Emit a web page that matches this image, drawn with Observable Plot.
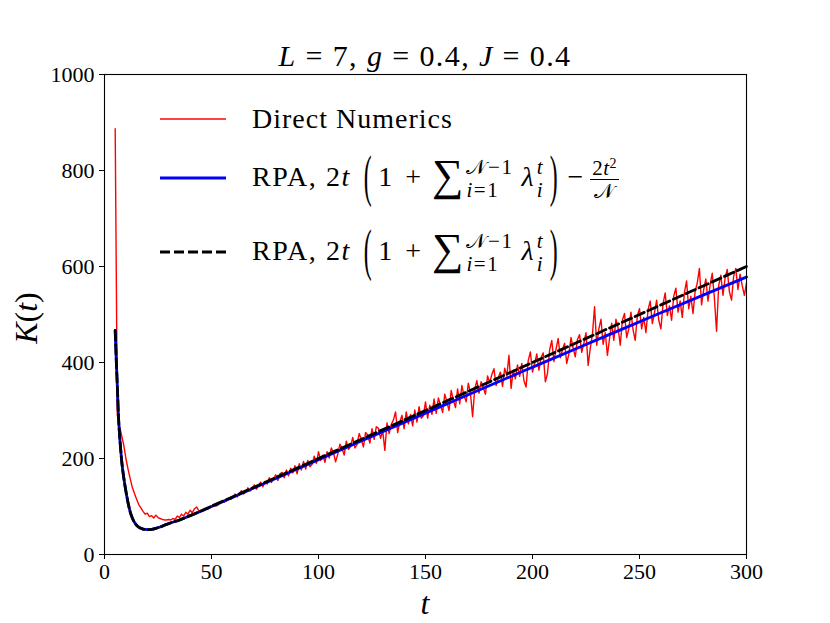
<!DOCTYPE html>
<html>
<head>
<meta charset="utf-8">
<script src="https://cdn.jsdelivr.net/npm/d3@7"></script>
<script src="https://cdn.jsdelivr.net/npm/@observablehq/plot@0.6"></script>
<style>
  html, body { margin: 0; padding: 0; background: #fff; }
  #wrap { position: relative; width: 830px; height: 623px; overflow: hidden; }
  .row { position: absolute; left: 160px; display: flex; align-items: center; height: 70px; white-space: nowrap; }
  .sw { width: 66px; height: 10px; margin-right: 26px; flex: none; }
  .txt { font-family: "Liberation Serif", serif; font-size: 28px; letter-spacing: 1px; color: #000; line-height: 1; }
  .m { letter-spacing: 1.6px; }
  .bp { display: inline-block; transform: scale(0.85, 2.0); margin: 0 5px 0 12px; }
  .bp.r { margin: 0 2px 0 5px; }
  .pl { margin: 0 10px 0 12px; }
  .sum { display: inline-block; font-size: 44px; vertical-align: -4px; margin-left: 0; }
  .ss { display: inline-block; vertical-align: middle; font-size: 21px; line-height: 1.1; letter-spacing: 1.6px; margin-left: 2px; }
  .ss span { display: block; }
  .lam { margin-left: 8px; }
  .frac { display: inline-block; vertical-align: middle; font-size: 21px; line-height: 1.05; text-align: center; letter-spacing: 0.5px; margin-left: 6px; }
  .frac .num { display: block; padding: 0 2px; }
  .frac .den { display: block; border-top: 1px solid #000; }
  .frac sup { font-size: 14px; vertical-align: 7px; line-height: 0; }
  .mn { margin-left: 6px; }
</style>
</head>
<body>
<div id="wrap"></div>
<script>
// ---- data ----
// smooth RPA curves, sampled at these t values
const tCurve = [5,5.5,6,6.5,7,7.5,8,9,10,11,12,13,14,15,16,17,18,19,20,22,24,26,28,30,35,40,45,50,60,70,80,90,100,120,140,160,180,200,220,240,260,280,300];
const rpaDashed = [467,405,350,290,252,222,196,160,132,108,89,76,67,61,57,54.5,53,52.3,52,52.5,54.5,57.5,61,64.5,72,81,90.5,100.5,120.3,140.2,160.1,180,200,240,280,320,360,400,440,480,520,560,600];
const rpaBlue = [467,405,350,290,252,222,196,160,132,108,89,76,67,61,57,54.5,53,52.3,52,52.4,54.4,57.3,60.8,64.3,71.7,80.6,90,99.9,119.4,139,158.5,178,197.6,236.5,275.2,313.7,352.1,390.2,428.2,465.9,503.5,540.9,578];

// direct numerics, one value per integer t from 5 to 300
const tStart = 5;
const directK = [
  887,290,268,248,228,200,178,158,140,127,   // t 5-14
  115,104,97,90,84,86,79,81,76,82,           // t 15-24
  77,75,73,72,72,73,72,75,73,80,             // t 25-34
  77,84,80,88,84,92,87,95,99,92,             // t 35-44
  91,93,96,94,97,101,104,101,103,108,        // t 45-54
  111,109,112,117,115,118,126,120,127,133,   // t 55-64
  126,130,139,132,138,145,136,144,151,141,   // t 65-74
  152,147,160,150,158,166,154,168,171,160,   // t 75-84
  176,164,180,170,185,168,189,176,194,178,   // t 85-94
  196,183,188,205,190,214,196,207,192,214,   // t 95-104
  201,222,212,193,209,230,221,207,236,219,   // t 105-114
  225,244,222,229,252,240,224,254,249,232,   // t 115-124
  262,240,266,263,242,258,217,274,252,271,   // t 125-134
  280,297,254,276,290,262,297,272,292,268,   // t 135-144
  301,276,308,284,289,318,284,311,292,324,   // t 145-154
  294,326,311,296,334,318,300,342,322,306,   // t 155-164
  345,314,352,331,318,357,336,287,345,362,   // t 165-174
  336,360,348,334,372,358,375,387,352,368,   // t 175-184
  380,350,388,372,415,346,384,366,395,371,   // t 185-194
  398,362,349,404,422,380,398,418,384,410,   // t 195-204
  420,360,377,426,446,402,428,450,410,426,   // t 205-214
  440,398,418,452,430,412,448,458,421,440,   // t 215-224
  462,394,430,458,516,436,470,490,438,462,   // t 225-234
  415,450,482,446,490,472,436,488,502,452,   // t 235-244
  470,505,468,446,498,512,470,494,462,510,   // t 245-254
  528,481,504,530,488,470,522,545,498,518,   // t 255-264
  488,538,555,505,528,494,546,570,512,538,   // t 265-274
  502,548,566,596,520,552,574,528,562,586,   // t 275-284
  534,465,560,582,540,576,594,548,530,580,   // t 285-294
  596,552,584,560,540,566                    // t 295-300
];

const xTicks = [0,50,100,150,200,250,300];
const yTicks = [0,200,400,600,800,1000];

const direct = directK.map((k, i) => ({t: tStart + i, k}));
const dashed = tCurve.map((t, i) => ({t, k: rpaDashed[i]}));
const blue = tCurve.map((t, i) => ({t, k: rpaBlue[i]}));

const chart = Plot.plot({
  width: 830,
  height: 623,
  marginLeft: 104,
  marginRight: 84,
  marginTop: 74,
  marginBottom: 69,
  style: {fontFamily: "'Liberation Serif', serif", fontSize: "22px", color: "#000", background: "#fff"},
  x: {domain: [0, 300]},
  y: {domain: [0, 1000]},
  marks: [
    Plot.axisX({ticks: xTicks, tickSize: 5, tickPadding: 4, label: null, fontSize: 22, tickFormat: d => String(d)}),
    Plot.axisY({ticks: yTicks, tickSize: 5, tickPadding: 5, label: null, fontSize: 22, tickFormat: d => String(d)}),
    Plot.line(direct, {x: "t", y: "k", stroke: "#ff0000", strokeWidth: 1.4}),
    Plot.line(blue, {x: "t", y: "k", stroke: "#0000ff", strokeWidth: 2.8, curve: "monotone-x"}),
    Plot.line(dashed, {x: "t", y: "k", stroke: "#000", strokeWidth: 2.8, strokeDasharray: "10,4", curve: "monotone-x"}),
    Plot.frame({stroke: "#000", strokeWidth: 1.1})
  ]
});

const wrap = document.getElementById("wrap");
wrap.appendChild(chart);

const svg = d3.select(chart);
// title
const title = svg.append("text")
  .attr("x", 425).attr("y", 66)
  .attr("text-anchor", "middle")
  .attr("font-family", "'Liberation Serif', serif")
  .attr("font-size", 30)
  .attr("letter-spacing", 1.4)
  .attr("fill", "#000");
title.append("tspan").attr("font-style", "italic").text("L");
title.append("tspan").text(" = 7, ");
title.append("tspan").attr("font-style", "italic").text("g");
title.append("tspan").text(" = 0.4, ");
title.append("tspan").attr("font-style", "italic").text("J");
title.append("tspan").text(" = 0.4");

// x label
svg.append("text")
  .attr("x", 425).attr("y", 614)
  .attr("text-anchor", "middle")
  .attr("font-family", "'Liberation Serif', serif")
  .attr("font-size", 32)
  .attr("font-style", "italic")
  .attr("fill", "#000")
  .text("t");

// y label
const yl = svg.append("text")
  .attr("transform", "translate(37,318) rotate(-90)")
  .attr("text-anchor", "middle")
  .attr("font-family", "'Liberation Serif', serif")
  .attr("font-size", 32)
  .attr("fill", "#000");
yl.append("tspan").attr("font-style", "italic").text("K");
yl.append("tspan").text("(");
yl.append("tspan").attr("font-style", "italic").text("t");
yl.append("tspan").text(")");

// legend
const N = "\u{1D4A9}";
const core = '<span class="m">RPA, 2<i>t</i></span><span class="bp">(</span>1<span class="pl">+</span><span class="sum">∑</span><span class="ss"><span>' + N + '−1</span><span><i>i</i>=1</span></span><i class="lam">λ</i><span class="ss"><span><i>t</i></span><span><i>i</i></span></span><span class="bp r">)</span>';
const legendRows = [
  {y: 119, swatch: '<line x1="0" x2="66" y1="5" y2="5" stroke="#ff0000" stroke-width="1.3"/>',
   html: 'Direct Numerics'},
  {y: 178, swatch: '<line x1="0" x2="66" y1="5" y2="5" stroke="#0000ff" stroke-width="2.8"/>',
   html: core + '<span class="mn">−</span><span class="frac"><span class="num">2<i>t</i><sup>2</sup></span><span class="den">' + N + '</span></span>'},
  {y: 252, swatch: '<line x1="0" x2="66" y1="5" y2="5" stroke="#000" stroke-width="2.8" stroke-dasharray="10,4"/>',
   html: core}
];
for (const r of legendRows) {
  const d = document.createElement("div");
  d.className = "row";
  d.style.top = (r.y - 35) + "px";
  d.innerHTML = '<svg class="sw" viewBox="0 0 66 10">' + r.swatch + '</svg><span class="txt">' + r.html + '</span>';
  wrap.appendChild(d);
}
</script>
</body>
</html>
